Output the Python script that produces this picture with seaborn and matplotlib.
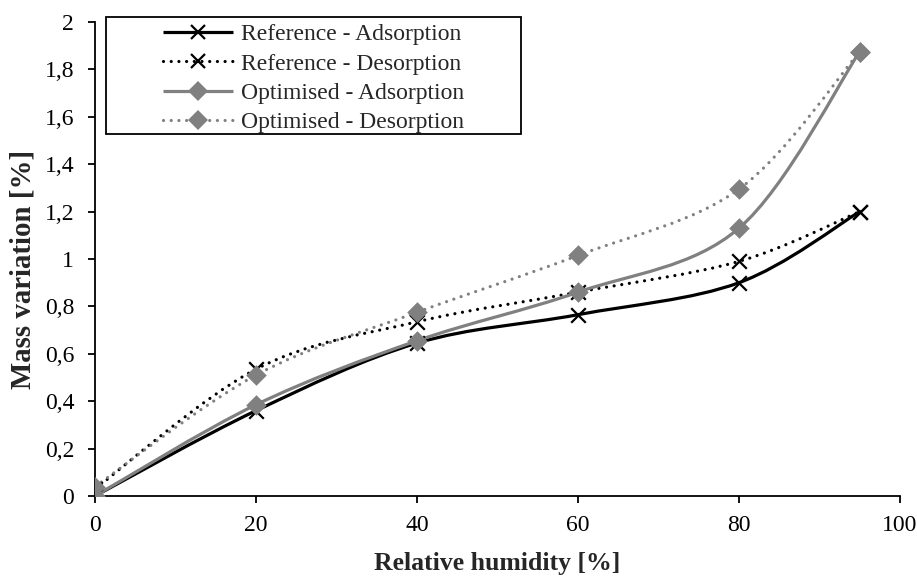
import numpy as np
import matplotlib
matplotlib.use("Agg")
import matplotlib.pyplot as plt
from matplotlib.path import Path
from matplotlib.patches import PathPatch, Rectangle
from matplotlib.lines import Line2D
from matplotlib.ticker import FuncFormatter, MultipleLocator
import seaborn as sns

humidity = [0, 20, 40, 60, 80, 95]
ref_adsorption = [0.0, 0.36, 0.645, 0.765, 0.90, 1.20]
ref_desorption = [0.03, 0.535, 0.735, 0.86, 0.99, 1.20]
opt_adsorption = [0.0, 0.385, 0.655, 0.86, 1.13, 1.875]
opt_desorption = [0.04, 0.51, 0.775, 1.015, 1.295, 1.875]

labels = ["Reference - Adsorption", "Reference - Desorption",
          "Optimised - Adsorption", "Optimised - Desorption"]

GREY = "#808080"
DOTS = (0, (0.01, 2.4))


def smooth_path(x, y):
    # excel-like smoothed line: cubic bezier segments through the data points
    pts = np.column_stack([x, y]).astype(float)
    n = len(pts)
    verts = [pts[0]]
    codes = [Path.MOVETO]
    for i in range(n - 1):
        p0 = pts[max(i - 1, 0)]
        p1 = pts[i]
        p2 = pts[i + 1]
        p3 = pts[min(i + 2, n - 1)]
        c1 = p1 + (p2 - p0) / 6.0
        c2 = p2 - (p3 - p1) / 6.0
        verts += [c1, c2, p2]
        codes += [Path.CURVE4] * 3
    return Path(verts, codes)


sns.set_theme(style="ticks")
plt.rcParams["font.family"] = ["Liberation Serif", "DejaVu Serif"]

fig, ax = plt.subplots(figsize=(9.17, 5.77), dpi=100)
fig.subplots_adjust(left=0.1036, right=0.9815, bottom=0.1404, top=0.9619)

series = [
    (ref_adsorption, "black", "-", "x", 2.3),
    (ref_desorption, "black", DOTS, "x", 2.3),
    (opt_adsorption, GREY, "-", "D", 2.3),
    (opt_desorption, GREY, DOTS, "D", 2.3),
]

handles = []
for (vals, color, ls, marker, lw), lab in zip(series, labels):
    patch = PathPatch(smooth_path(humidity, vals), fill=False, edgecolor=color,
                      linewidth=lw, linestyle=ls, capstyle="round", zorder=2)
    ax.add_patch(patch)
    if marker == "x":
        sns.scatterplot(x=humidity, y=vals, marker="x", s=110, color=color,
                        linewidth=1.6, ax=ax, zorder=3, legend=False)
    else:
        sns.scatterplot(x=humidity, y=vals, marker="D", s=110, color=color,
                        edgecolor=color, linewidth=0, ax=ax, zorder=3, legend=False)
    handles.append(Line2D([0], [0], color=color, linestyle=ls, linewidth=lw,
                          dash_capstyle="round", solid_capstyle="butt", marker=marker,
                          markersize=10.5 if marker == "x" else 10,
                          markeredgewidth=1.6 if marker == "x" else 0,
                          markerfacecolor=color, markeredgecolor=color))

ax.set_xlim(0, 100)
ax.set_ylim(0, 2)
ax.xaxis.set_major_locator(MultipleLocator(20))
ax.yaxis.set_major_locator(MultipleLocator(0.2))
ax.yaxis.set_major_formatter(FuncFormatter(lambda v, p: f"{v:.1f}".rstrip("0").rstrip(".").replace(".", ",")))

sns.despine(ax=ax)
for side in ["left", "bottom"]:
    ax.spines[side].set_linewidth(1.3)
    ax.spines[side].set_color("black")
ax.tick_params(axis="both", direction="out", length=5, width=1.3, colors="black",
               labelsize=17)
ax.tick_params(axis="x", pad=9)
ax.tick_params(axis="y", pad=10)

ax.set_xlabel("Relative humidity [%]", fontsize=18.5, fontweight="bold", labelpad=11)
ax.set_ylabel("Mass variation [%]", fontsize=20.8, fontweight="bold")
ax.yaxis.set_label_coords(-0.073, 0.479)

# legend box drawn separately: excel pads the entries widely inside it
frame = Rectangle((0.0137, 0.764), 0.516, 0.2465, transform=ax.transAxes,
                  facecolor="white", edgecolor="black", linewidth=1.3,
                  clip_on=False, zorder=4)
ax.add_patch(frame)
leg = ax.legend(handles, labels, loc="upper left", bbox_to_anchor=(0.084, 0.996),
                fontsize=17, frameon=False, handlelength=3.0,
                handletextpad=0.3, borderpad=0.0, labelspacing=0.33, borderaxespad=0)
leg.set_zorder(5)

fig.savefig("out.png", dpi=100)
